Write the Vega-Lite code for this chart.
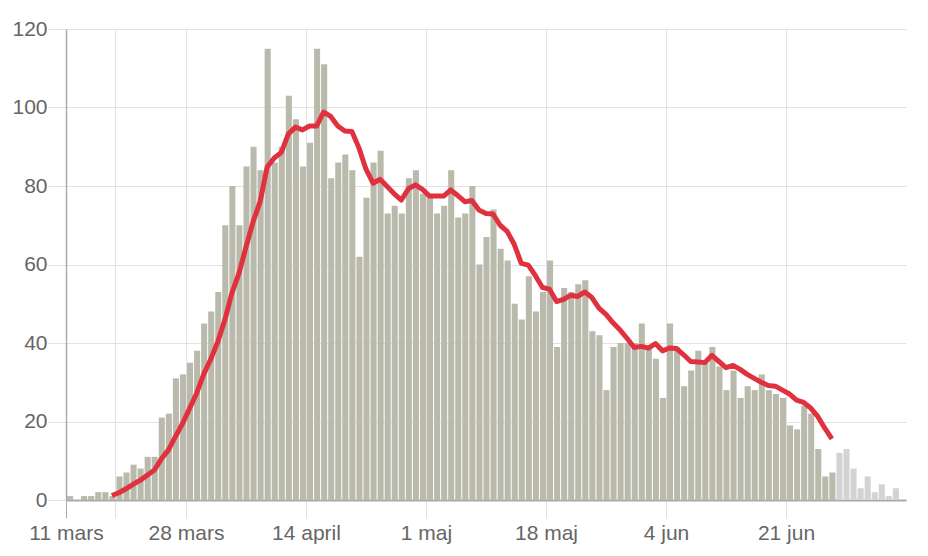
{
  "$schema": "https://vega.github.io/schema/vega-lite/v6.json",
  "width": 840,
  "height": 471,
  "autosize": "none",
  "padding": {"left": 66, "top": 29, "right": 22, "bottom": 56},
  "background": "white",
  "config": {
    "view": {"stroke": null},
    "font": "Liberation Sans",
    "axis": {"labelFont": "Liberation Sans", "labelFontSize": 21, "labelColor": "#666666", "gridColor": "#e2e2e2", "tickColor": "#e2e2e2", "tickSize": 18, "domainColor": "#aaaaaa", "title": null}
  },
  "data": {
    "values": [
      {"date": "2020-03-11", "deaths": 1, "prelim": 0},
      {"date": "2020-03-12", "deaths": 0, "prelim": 0},
      {"date": "2020-03-13", "deaths": 1, "prelim": 0},
      {"date": "2020-03-14", "deaths": 1, "prelim": 0},
      {"date": "2020-03-15", "deaths": 2, "prelim": 0},
      {"date": "2020-03-16", "deaths": 2, "prelim": 0},
      {"date": "2020-03-17", "deaths": 1, "prelim": 0},
      {"date": "2020-03-18", "deaths": 6, "prelim": 0},
      {"date": "2020-03-19", "deaths": 7, "prelim": 0},
      {"date": "2020-03-20", "deaths": 9, "prelim": 0},
      {"date": "2020-03-21", "deaths": 8, "prelim": 0},
      {"date": "2020-03-22", "deaths": 11, "prelim": 0},
      {"date": "2020-03-23", "deaths": 11, "prelim": 0},
      {"date": "2020-03-24", "deaths": 21, "prelim": 0},
      {"date": "2020-03-25", "deaths": 22, "prelim": 0},
      {"date": "2020-03-26", "deaths": 31, "prelim": 0},
      {"date": "2020-03-27", "deaths": 32, "prelim": 0},
      {"date": "2020-03-28", "deaths": 35, "prelim": 0},
      {"date": "2020-03-29", "deaths": 38, "prelim": 0},
      {"date": "2020-03-30", "deaths": 45, "prelim": 0},
      {"date": "2020-03-31", "deaths": 48, "prelim": 0},
      {"date": "2020-04-01", "deaths": 53, "prelim": 0},
      {"date": "2020-04-02", "deaths": 70, "prelim": 0},
      {"date": "2020-04-03", "deaths": 80, "prelim": 0},
      {"date": "2020-04-04", "deaths": 70, "prelim": 0},
      {"date": "2020-04-05", "deaths": 85, "prelim": 0},
      {"date": "2020-04-06", "deaths": 90, "prelim": 0},
      {"date": "2020-04-07", "deaths": 84, "prelim": 0},
      {"date": "2020-04-08", "deaths": 115, "prelim": 0},
      {"date": "2020-04-09", "deaths": 86, "prelim": 0},
      {"date": "2020-04-10", "deaths": 90, "prelim": 0},
      {"date": "2020-04-11", "deaths": 103, "prelim": 0},
      {"date": "2020-04-12", "deaths": 97, "prelim": 0},
      {"date": "2020-04-13", "deaths": 85, "prelim": 0},
      {"date": "2020-04-14", "deaths": 91, "prelim": 0},
      {"date": "2020-04-15", "deaths": 115, "prelim": 0},
      {"date": "2020-04-16", "deaths": 111, "prelim": 0},
      {"date": "2020-04-17", "deaths": 82, "prelim": 0},
      {"date": "2020-04-18", "deaths": 86, "prelim": 0},
      {"date": "2020-04-19", "deaths": 88, "prelim": 0},
      {"date": "2020-04-20", "deaths": 84, "prelim": 0},
      {"date": "2020-04-21", "deaths": 62, "prelim": 0},
      {"date": "2020-04-22", "deaths": 77, "prelim": 0},
      {"date": "2020-04-23", "deaths": 86, "prelim": 0},
      {"date": "2020-04-24", "deaths": 89, "prelim": 0},
      {"date": "2020-04-25", "deaths": 73, "prelim": 0},
      {"date": "2020-04-26", "deaths": 75, "prelim": 0},
      {"date": "2020-04-27", "deaths": 73, "prelim": 0},
      {"date": "2020-04-28", "deaths": 82, "prelim": 0},
      {"date": "2020-04-29", "deaths": 84, "prelim": 0},
      {"date": "2020-04-30", "deaths": 78, "prelim": 0},
      {"date": "2020-05-01", "deaths": 77, "prelim": 0},
      {"date": "2020-05-02", "deaths": 73, "prelim": 0},
      {"date": "2020-05-03", "deaths": 75, "prelim": 0},
      {"date": "2020-05-04", "deaths": 84, "prelim": 0},
      {"date": "2020-05-05", "deaths": 72, "prelim": 0},
      {"date": "2020-05-06", "deaths": 73, "prelim": 0},
      {"date": "2020-05-07", "deaths": 80, "prelim": 0},
      {"date": "2020-05-08", "deaths": 60, "prelim": 0},
      {"date": "2020-05-09", "deaths": 67, "prelim": 0},
      {"date": "2020-05-10", "deaths": 74, "prelim": 0},
      {"date": "2020-05-11", "deaths": 64, "prelim": 0},
      {"date": "2020-05-12", "deaths": 61, "prelim": 0},
      {"date": "2020-05-13", "deaths": 50, "prelim": 0},
      {"date": "2020-05-14", "deaths": 46, "prelim": 0},
      {"date": "2020-05-15", "deaths": 57, "prelim": 0},
      {"date": "2020-05-16", "deaths": 48, "prelim": 0},
      {"date": "2020-05-17", "deaths": 53, "prelim": 0},
      {"date": "2020-05-18", "deaths": 61, "prelim": 0},
      {"date": "2020-05-19", "deaths": 39, "prelim": 0},
      {"date": "2020-05-20", "deaths": 54, "prelim": 0},
      {"date": "2020-05-21", "deaths": 53, "prelim": 0},
      {"date": "2020-05-22", "deaths": 55, "prelim": 0},
      {"date": "2020-05-23", "deaths": 56, "prelim": 0},
      {"date": "2020-05-24", "deaths": 43, "prelim": 0},
      {"date": "2020-05-25", "deaths": 42, "prelim": 0},
      {"date": "2020-05-26", "deaths": 28, "prelim": 0},
      {"date": "2020-05-27", "deaths": 39, "prelim": 0},
      {"date": "2020-05-28", "deaths": 40, "prelim": 0},
      {"date": "2020-05-29", "deaths": 40, "prelim": 0},
      {"date": "2020-05-30", "deaths": 40, "prelim": 0},
      {"date": "2020-05-31", "deaths": 45, "prelim": 0},
      {"date": "2020-06-01", "deaths": 39, "prelim": 0},
      {"date": "2020-06-02", "deaths": 36, "prelim": 0},
      {"date": "2020-06-03", "deaths": 26, "prelim": 0},
      {"date": "2020-06-04", "deaths": 45, "prelim": 0},
      {"date": "2020-06-05", "deaths": 39, "prelim": 0},
      {"date": "2020-06-06", "deaths": 29, "prelim": 0},
      {"date": "2020-06-07", "deaths": 33, "prelim": 0},
      {"date": "2020-06-08", "deaths": 38, "prelim": 0},
      {"date": "2020-06-09", "deaths": 35, "prelim": 0},
      {"date": "2020-06-10", "deaths": 39, "prelim": 0},
      {"date": "2020-06-11", "deaths": 34, "prelim": 0},
      {"date": "2020-06-12", "deaths": 28, "prelim": 0},
      {"date": "2020-06-13", "deaths": 33, "prelim": 0},
      {"date": "2020-06-14", "deaths": 26, "prelim": 0},
      {"date": "2020-06-15", "deaths": 29, "prelim": 0},
      {"date": "2020-06-16", "deaths": 28, "prelim": 0},
      {"date": "2020-06-17", "deaths": 32, "prelim": 0},
      {"date": "2020-06-18", "deaths": 28, "prelim": 0},
      {"date": "2020-06-19", "deaths": 27, "prelim": 0},
      {"date": "2020-06-20", "deaths": 26, "prelim": 0},
      {"date": "2020-06-21", "deaths": 19, "prelim": 0},
      {"date": "2020-06-22", "deaths": 18, "prelim": 0},
      {"date": "2020-06-23", "deaths": 24, "prelim": 0},
      {"date": "2020-06-24", "deaths": 22, "prelim": 0},
      {"date": "2020-06-25", "deaths": 13, "prelim": 0},
      {"date": "2020-06-26", "deaths": 6, "prelim": 0},
      {"date": "2020-06-27", "deaths": 7, "prelim": 0},
      {"date": "2020-06-28", "deaths": 12, "prelim": 1},
      {"date": "2020-06-29", "deaths": 13, "prelim": 1},
      {"date": "2020-06-30", "deaths": 8, "prelim": 1},
      {"date": "2020-07-01", "deaths": 3, "prelim": 1},
      {"date": "2020-07-02", "deaths": 6, "prelim": 1},
      {"date": "2020-07-03", "deaths": 2, "prelim": 1},
      {"date": "2020-07-04", "deaths": 4, "prelim": 1},
      {"date": "2020-07-05", "deaths": 1, "prelim": 1},
      {"date": "2020-07-06", "deaths": 3, "prelim": 1}
    ]
  },
  "layer": [
    {
      "mark": {"type": "bar"},
      "encoding": {
        "x": {
          "field": "date", "timeUnit": "utcyearmonthdate", "type": "temporal",
          "scale": {"type": "utc", "domain": [{"year": 2020, "month": 3, "date": 11, "utc": true}, {"year": 2020, "month": 7, "date": 8, "utc": true}]},
          "axis": {
            "values": [
              {"year": 2020, "month": 3, "date": 11, "utc": true},
              {"year": 2020, "month": 3, "date": 18, "utc": true},
              {"year": 2020, "month": 3, "date": 28, "utc": true},
              {"year": 2020, "month": 4, "date": 14, "utc": true},
              {"year": 2020, "month": 5, "date": 1, "utc": true},
              {"year": 2020, "month": 5, "date": 18, "utc": true},
              {"year": 2020, "month": 6, "date": 4, "utc": true},
              {"year": 2020, "month": 6, "date": 21, "utc": true}
            ],
            "labelExpr": "(utcdate(datum.value) == 18 && utcmonth(datum.value) == 2) ? '' : utcdate(datum.value) + ' ' + ['jan','feb','mars','april','maj','jun','jul'][utcmonth(datum.value)]",
            "grid": true,
            "labelPadding": 4,
            "domainWidth": 2,
            "labelFlush": false,
            "labelOverlap": false,
            "tickColor": {"condition": {"test": "utcdate(datum.value) == 11 && utcmonth(datum.value) == 2", "value": "#aaaaaa"}, "value": "#e2e2e2"}
          }
        },
        "y": {
          "field": "deaths", "type": "quantitative",
          "scale": {"domain": [0, 120], "nice": false},
          "axis": {"values": [0, 20, 40, 60, 80, 100, 120], "labelPadding": 1, "domainWidth": 1.5, "grid": true}
        },
        "color": {
          "field": "prelim", "type": "nominal",
          "scale": {"domain": [0, 1], "range": ["#b9baab", "#d3d3d3"]},
          "legend": null
        }
      }
    },
    {
      "transform": [
        {"window": [{"op": "mean", "field": "deaths", "as": "ma"}, {"op": "count", "as": "n"}], "frame": [-6, 0], "sort": [{"field": "date", "order": "ascending"}]},
        {"filter": "datum.n == 7 && datum.prelim == 0"}
      ],
      "mark": {"type": "line", "color": "#e0313f", "strokeWidth": 5, "strokeJoin": "round"},
      "encoding": {
        "x": {"field": "date", "timeUnit": "utcyearmonthdate", "type": "temporal", "bandPosition": 0.5},
        "y": {"field": "ma", "type": "quantitative"}
      }
    }
  ]
}
